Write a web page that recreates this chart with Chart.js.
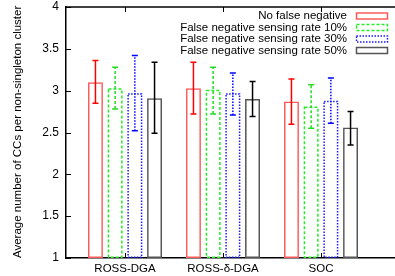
<!DOCTYPE html>
<html>
<head>
<meta charset="utf-8">
<script src="https://cdn.jsdelivr.net/npm/chart.js@4/dist/chart.umd.min.js"></script>
<style>
  html, body { margin: 0; padding: 0; overflow: hidden; background: #fff; }
  #wrap { position: relative; width: 410px; height: 276px; }
</style>
</head>
<body>
<div id="wrap"><canvas id="chart"></canvas></div>
<script>
const categories = ['ROSS-DGA', 'ROSS-δ-DGA', 'SOC'];
const seriesLabels = [
    'No false negative',
    'False negative sensing rate 10%',
    'False negative sensing rate 30%',
    'False negative sensing rate 50%'
];
const noFalse = [3.10, 3.03, 2.87];
const rate10 = [3.03, 3.01, 2.81];
const rate30 = [2.97, 2.97, 2.88];
const rate50 = [2.91, 2.90, 2.56];

const noFalseLow = [2.85, 2.72, 2.60];
const noFalseHigh = [3.36, 3.34, 3.14];
const rate10Low = [2.78, 2.72, 2.55];
const rate10High = [3.28, 3.28, 3.07];
const rate30Low = [2.52, 2.71, 2.61];
const rate30High = [3.42, 3.21, 3.15];
const rate50Low = [2.49, 2.69, 2.35];
const rate50High = [3.34, 3.11, 2.75];

const yTicks = [1, 1.5, 2, 2.5, 3, 3.5, 4];

const styles = [
    { bar: '#ff5a5a', err: '#ff0000', dash: [] },
    { bar: '#22ee22', err: '#22dd22', dash: [3, 2] },
    { bar: '#1a1aff', err: '#0000ff', dash: [1.5, 1.5] },
    { bar: '#555555', err: '#000000', dash: [] }
];

const values = [noFalse, rate10, rate30, rate50];
const lows = [noFalseLow, rate10Low, rate30Low, rate50Low];
const highs = [noFalseHigh, rate10High, rate30High, rate50High];

const font = "'Liberation Sans', Arial, sans-serif";

// bars with a dash pattern get their outline from the plugin (Chart.js bars ignore borderDash)
const datasets = values.map((vals, i) => ({
    label: seriesLabels[i],
    data: vals.map((v, j) => ({ x: j, y: v })),
    low: lows[i],
    high: highs[i],
    base: 1,
    backgroundColor: 'rgba(0,0,0,0)',
    borderColor: styles[i].dash.length ? 'rgba(0,0,0,0)' : styles[i].bar,
    borderWidth: 1.5,
    borderSkipped: false,
    categoryPercentage: 0.804,
    barPercentage: 0.76
}));

const extras = {
    id: 'extras',
    afterDatasetsDraw(chart) {
        const ctx = chart.ctx;
        const y = chart.scales.y;
        chart.data.datasets.forEach((ds, i) => {
            const meta = chart.getDatasetMeta(i);
            meta.data.forEach((el, j) => {
                ctx.save();
                if (styles[i].dash.length) {
                    const w = el.width - 1.5;
                    ctx.strokeStyle = styles[i].bar;
                    ctx.lineWidth = 1.5;
                    ctx.setLineDash(styles[i].dash);
                    ctx.strokeRect(el.x - w / 2, el.y + 0.75, w, el.base - el.y - 1.5);
                }
                const yl = y.getPixelForValue(ds.low[j]);
                const yh = y.getPixelForValue(ds.high[j]);
                ctx.strokeStyle = styles[i].err;
                ctx.lineWidth = 1.5;
                ctx.setLineDash(styles[i].dash);
                ctx.beginPath();
                ctx.moveTo(el.x, yl);
                ctx.lineTo(el.x, yh);
                ctx.stroke();
                ctx.setLineDash([]);
                ctx.beginPath();
                ctx.moveTo(el.x - 3, yl);
                ctx.lineTo(el.x + 3, yl);
                ctx.moveTo(el.x - 3, yh);
                ctx.lineTo(el.x + 3, yh);
                ctx.stroke();
                ctx.restore();
            });
        });
    },
    afterDraw(chart) {
        const ctx = chart.ctx;
        const a = chart.chartArea;
        const x = chart.scales.x;
        const y = chart.scales.y;
        ctx.save();
        ctx.strokeStyle = '#000';
        ctx.lineWidth = 1.5;
        ctx.beginPath();
        ctx.moveTo(a.left, a.top);
        ctx.lineTo(a.right, a.top);
        ctx.stroke();
        ctx.lineWidth = 1;
        ctx.beginPath();
        categories.forEach((c, j) => {
            const px = Math.round(x.getPixelForValue(j)) + 0.5;
            ctx.moveTo(px, a.top);
            ctx.lineTo(px, a.top + 5);
            ctx.moveTo(px, a.bottom);
            ctx.lineTo(px, a.bottom - 5);
        });
        yTicks.forEach(v => {
            const py = Math.round(y.getPixelForValue(v)) + 0.5;
            ctx.moveTo(a.left, py);
            ctx.lineTo(a.left + 5, py);
        });
        ctx.stroke();

        // legend
        ctx.font = '11.5px ' + font;
        ctx.fillStyle = '#000';
        ctx.textAlign = 'right';
        ctx.textBaseline = 'middle';
        const rows = [16, 27.5, 39, 50.5];
        seriesLabels.forEach((t, i) => {
            ctx.fillText(t, 347, rows[i]);
            ctx.strokeStyle = styles[i].bar;
            ctx.lineWidth = 1.5;
            ctx.setLineDash(styles[i].dash);
            ctx.strokeRect(356.5, rows[i] - 3, 31, 6);
        });
        ctx.restore();
    }
};

new Chart(document.getElementById('chart'), {
    type: 'bar',
    data: { datasets },
    options: {
        responsive: true,
        maintainAspectRatio: false,
        animation: false,
        layout: { padding: { top: 7, left: 0, right: 0, bottom: 0 } },
        plugins: {
            legend: { display: false },
            tooltip: { enabled: false }
        },
        scales: {
            x: {
                type: 'linear',
                offset: false,
                bounds: 'data',
                min: (66 - 125) / 98,
                max: (410 - 125) / 98,
                afterBuildTicks: s => { s.ticks = categories.map((c, j) => ({ value: j })); },
                afterFit: s => { s.height = 18; s.paddingLeft = 0; s.paddingRight = 0; },
                grid: { display: false, drawTicks: false, offset: false },
                border: { display: true, color: '#000', width: 1.5 },
                ticks: {
                    padding: 4,
                    maxRotation: 0,
                    autoSkip: false,
                    color: '#000',
                    font: { family: font, size: 11.5 },
                    callback: v => categories[v]
                }
            },
            y: {
                min: 1,
                max: 4,
                afterBuildTicks: s => { s.ticks = yTicks.map(v => ({ value: v })); },
                afterFit: s => { s.width = 66; s.paddingTop = 0; s.paddingBottom = 0; },
                grid: { display: false, drawTicks: false },
                border: { display: true, color: '#000', width: 1.5 },
                ticks: {
                    padding: 7,
                    color: '#000',
                    font: { family: font, size: 12 },
                    callback: v => String(v)
                },
                title: {
                    display: true,
                    align: 'start',
                    text: 'Average number of CCs per non-singleton cluster',
                    color: '#000',
                    font: { family: font, size: 11.5 },
                    padding: { top: 11, bottom: 0 }
                }
            }
        }
    },
    plugins: [extras]
});
</script>
</body>
</html>
